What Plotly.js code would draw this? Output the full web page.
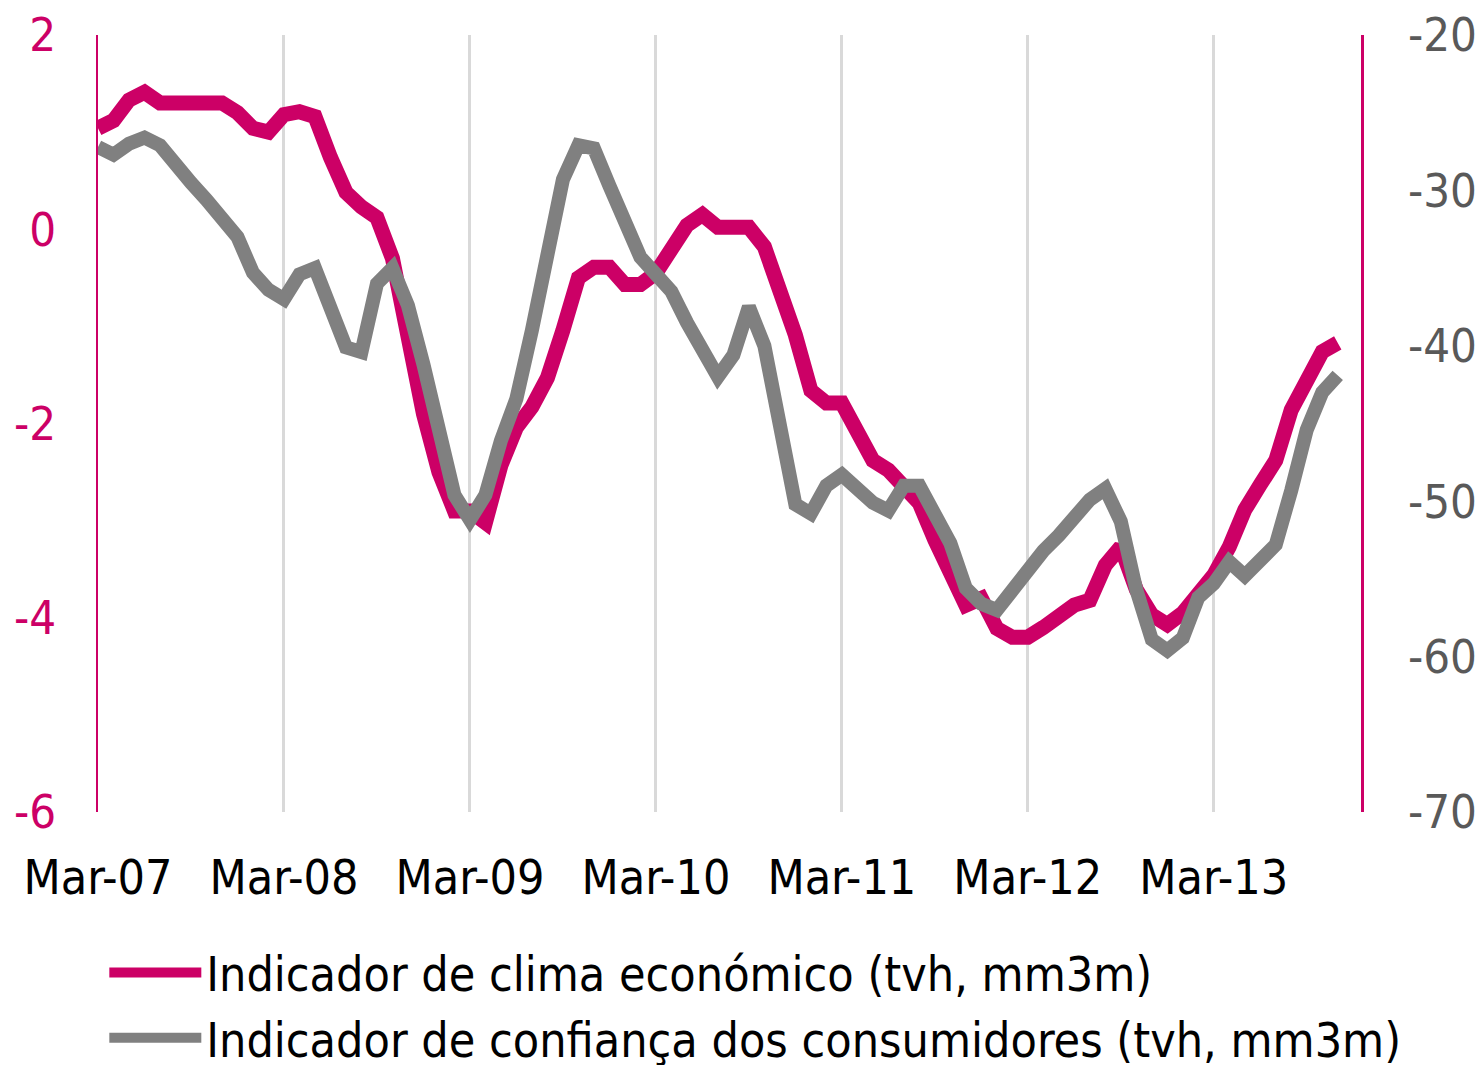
<!DOCTYPE html>
<html>
<head>
<meta charset="utf-8">
<script src="https://cdn.plot.ly/plotly-3.0.1.min.js"></script>
<style>html,body{margin:0;padding:0;background:#fff;}#chart{width:1483px;height:1065px;}</style>
</head>
<body>
<div id="chart"></div>
<script>
// Monthly data, Mar-07 .. Nov-13
const climaEconomico = [
  1.04, 1.12, 1.33, 1.41, 1.30, 1.30, 1.30, 1.33, 1.30, 1.20,
  1.04, 1.00, 1.18, 1.21, 1.16, 0.74, 0.38, 0.23, 0.12, -0.30,
  -1.20, -1.90, -2.50, -2.90, -2.90, -3.02, -2.43, -2.04, -1.83, -1.53,
  -1.04, -0.50, -0.39, -0.39, -0.57, -0.57, -0.45, -0.21, 0.04, 0.15,
  0.02, 0.02, 0.02, -0.18, -0.63, -1.09, -1.66, -1.79, -1.79, -2.05,
  -2.38, -2.48, -2.66, -2.82, -3.20, -3.53, -3.87, -3.80, -4.11, -4.20,
  -4.20, -4.10, -3.97, -3.87, -3.82, -3.46, -3.27, -3.71, -3.97, -4.07,
  -3.95, -3.75, -3.56, -3.27, -2.89, -2.63, -2.38, -1.86, -1.57, -1.26,
  -1.17
];
const confiancaConsumidores = [
  -27.2, -27.7, -27.0, -26.6, -27.1, -28.4, -29.5, -30.6, -31.7, -33.0,
  -35.3, -36.4, -37.0, -35.4, -35.0, -37.3, -40.1, -40.4, -36.0, -35.0,
  -37.4, -41.2, -45.4, -49.6, -51.2, -49.6, -46.1, -43.4, -39.0, -33.8,
  -29.3, -27.1, -27.3, -29.7, -32.2, -34.3, -35.4, -36.5, -38.5, -40.1,
  -42.0, -40.6, -37.5, -40.0, -45.1, -50.2, -50.8, -49.0, -48.3, -49.3,
  -50.1, -50.6, -49.0, -49.0, -50.9, -52.7, -55.6, -56.6, -57.0, -55.7,
  -54.4, -53.2, -52.2, -51.1, -49.9, -49.2, -51.3, -55.7, -58.9, -59.6,
  -58.8, -56.2, -55.3, -53.9, -54.8, -53.8, -52.8, -49.3, -45.4, -43.0,
  -41.9
];
const tickLabels = ["Mar-07", "Mar-08", "Mar-09", "Mar-10", "Mar-11", "Mar-12", "Mar-13"];
const leftTickVals = [2, 0, -2, -4, -6];
const leftTickText = ["2", "0", "-2", "-4", "-6"];
const rightTickVals = [-20, -30, -40, -50, -60, -70];
const rightTickText = ["-20", "-30", "-40", "-50", "-60", "-70"];
const seriesNames = ["Indicador de clima económico (tvh, mm3m)", "Indicador de confiança dos consumidores (tvh, mm3m)"];

const monthIdx = climaEconomico.map((_, i) => i);
const tickVals = tickLabels.map((_, i) => i * 12);

const FONT = '"DejaVu Sans Condensed", "DejaVu Sans", sans-serif';
const PINK = '#CC0066';
const GRAY = '#808080';

const traces = [
  {
    x: monthIdx, y: climaEconomico, name: seriesNames[0],
    type: 'scatter', mode: 'lines', yaxis: 'y',
    line: {color: PINK, width: 15}
  },
  {
    x: monthIdx, y: confiancaConsumidores, name: seriesNames[1],
    type: 'scatter', mode: 'lines', yaxis: 'y2',
    line: {color: GRAY, width: 14}
  }
];

const layout = {
  width: 1483, height: 1065,
  margin: {l: 98, r: 122, t: 35, b: 253, pad: 0, autoexpand: false},
  paper_bgcolor: '#fff', plot_bgcolor: '#fff',
  font: {family: FONT, size: 48, color: '#000'},
  showlegend: true,
  hovermode: false,
  xaxis: {
    range: [0, 81.5],
    tickvals: tickVals, ticktext: tickLabels,
    showgrid: true, gridcolor: '#D9D9D9', gridwidth: 3,
    zeroline: false, showline: false, ticks: '',
    tickfont: {family: FONT, size: 48, color: '#000'},
    ticklabelstandoff: 33,
    fixedrange: true
  },
  yaxis: {
    range: [-6, 2],
    tickvals: leftTickVals, ticktext: leftTickText,
    showgrid: false, zeroline: false,
    showline: true, linecolor: PINK, linewidth: 2.5,
    ticks: '', ticklabelstandoff: 30,
    tickfont: {family: FONT, size: 47, color: PINK},
    fixedrange: true
  },
  yaxis2: {
    overlaying: 'y', side: 'right',
    range: [-70, -20],
    tickvals: rightTickVals, ticktext: rightTickText,
    showgrid: false, zeroline: false,
    showline: true, linecolor: PINK, linewidth: 2.5,
    ticks: '', ticklabelstandoff: 35,
    tickfont: {family: FONT, size: 47, color: '#595959'},
    fixedrange: true
  },
  legend: {
    orientation: 'v',
    x: 0.005, xanchor: 'left',
    y: -0.158, yanchor: 'top',
    font: {family: FONT, size: 48, color: '#000'},
    bgcolor: 'rgba(0,0,0,0)',
    tracegroupgap: 0, itemwidth: 92
  }
};

Plotly.newPlot('chart', traces, layout, {displayModeBar: false, staticPlot: true});
</script>
</body>
</html>
